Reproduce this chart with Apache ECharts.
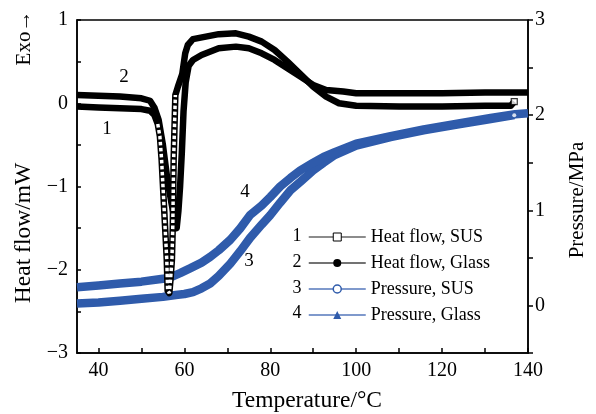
<!DOCTYPE html>
<html>
<head>
<meta charset="utf-8">
<script src="https://cdn.jsdelivr.net/npm/echarts@6/dist/echarts.min.js"></script>
<style>
html,body{margin:0;padding:0;background:#fff;}
#c{width:596px;height:414px;}
</style>
</head>
<body>
<div id="c"></div>
<script>
// ---- data ----
var tSusHeat = [35,40,45,50,52,53,53.8,54.3,54.7,55.1,55.5,55.9,56.1,56.5,56.8,57.1,57.3,57.4,57.5,57.7,57.9,58.5,59.5,60.2,60.8,62,65,68,72,75,78,81,84,87,90,93,96,100,110,120,130,136,136.8];
var vSusHeat = [-0.04,-0.05,-0.06,-0.07,-0.09,-0.14,-0.25,-0.4,-0.68,-1.08,-1.48,-1.88,-2.25,-2.28,-2.1,-1.88,-1.48,-1.08,-0.68,-0.28,0.1,0.2,0.35,0.6,0.7,0.77,0.8,0.83,0.84,0.8,0.74,0.64,0.5,0.35,0.2,0.08,0.0,-0.03,-0.04,-0.04,-0.03,-0.03,0.02];

var tGlassHeat = [35,45,50,52,53,54,55,56,57,57.8,58.2,58.6,59,59.4,59.8,60.3,61,62,64,68,72,75,78,81,84,87,90,93,97,100,110,120,130,140];
var vGlassHeat = [0.1,0.08,0.06,0.03,-0.05,-0.2,-0.5,-0.9,-1.2,-1.42,-1.5,-1.3,-1.0,-0.6,-0.1,0.25,0.45,0.52,0.58,0.66,0.68,0.66,0.6,0.52,0.42,0.32,0.22,0.16,0.14,0.12,0.12,0.12,0.13,0.13];

var tSusP = [35,40,45,50,55,58,60,62,64,66,68,70.7,73,75.3,78,80,82.3,84.7,87,90,92.4,95,100,108,115.7,123.5,131.3,136.8];
var vSusP = [0.02,0.03,0.05,0.07,0.09,0.11,0.12,0.14,0.18,0.23,0.31,0.44,0.57,0.71,0.85,0.95,1.08,1.21,1.30,1.42,1.50,1.58,1.68,1.77,1.84,1.90,1.96,2.0];

var tGlassP = [35,40,45,50,55,57,59,61.3,64,66,68,70.7,73,75.3,78,80,82.3,84.7,87,90,92.4,95,100,108,115.7,123.5,131.3,137,140];
var vGlassP = [0.19,0.21,0.23,0.25,0.28,0.30,0.34,0.39,0.45,0.51,0.58,0.69,0.81,0.95,1.05,1.14,1.25,1.34,1.42,1.50,1.56,1.61,1.70,1.78,1.85,1.91,1.97,2.01,2.02];

var xLabelValues = [40,60,80,100,120,140];
var xTickValues = [40,50,60,70,80,90,100,110,120,130,140];
var seriesNames = ['Heat flow, SUS','Heat flow, Glass','Pressure, SUS','Pressure, Glass'];
var curveNumbers = ['1','2','3','4'];

// ---- build ----
function zip(t, v){ return t.map(function(x,i){ return [x, v[i]]; }); }
var susHeat = zip(tSusHeat, vSusHeat);
var susDrop = susHeat.filter(function(p){ return p[0] >= 53.8 && p[0] <= 57.9; });
var susHeatEnd = [susHeat[susHeat.length - 1]];
var susPData = zip(tSusP, vSusP);
var susPEnd = [susPData[susPData.length - 1]];

var FONT = "'Liberation Serif','Times New Roman',serif";
var BLUE = '#2f5bab';
function fmtNum(v){ return v < 0 ? '\u2212' + (-v) : String(v); }

var chart = echarts.init(document.getElementById('c'), null, {renderer:'canvas'});
chart.setOption({
  backgroundColor: '#fff',
  animation: false,
  grid: {left:77, right:68, top:20, bottom:61, show:true, borderColor:'#000', borderWidth:1.5, backgroundColor:'transparent'},
  xAxis: {
    type:'value', min:35, max:140,
    axisLine:{show:true, onZero:false, lineStyle:{color:'#000', width:1.5}},
    axisTick:{show:true, inside:true, length:5, customValues: xTickValues, lineStyle:{color:'#000', width:1.5}},
    axisLabel:{customValues: xLabelValues, color:'#000', fontFamily:FONT, fontSize:20, margin:8},
    splitLine:{show:false}
  },
  yAxis: [{
    type:'value', min:-3, max:1, interval:0.5, position:'left',
    axisLine:{show:true, onZero:false, lineStyle:{color:'#000', width:1.5}},
    axisTick:{show:true, inside:true, length:4, lineStyle:{color:'#000', width:1.5}},
    axisLabel:{color:'#000', fontFamily:FONT, fontSize:20, margin:9,
      formatter:function(v){ return Number.isInteger(v) ? fmtNum(v) : ''; }},
    splitLine:{show:false}
  },{
    type:'value', min:-0.5, max:3, interval:0.5, position:'right',
    axisLine:{show:true, onZero:false, lineStyle:{color:'#000', width:1.5}},
    axisTick:{show:true, inside:false, length:5, lineStyle:{color:'#000', width:1.5}},
    axisLabel:{color:'#000', fontFamily:FONT, fontSize:20, margin:7,
      formatter:function(v){ return Number.isInteger(v) ? fmtNum(v) : ''; }},
    splitLine:{show:false}
  }],
  legend: {
    orient:'vertical', left:303, top:223, itemWidth:57, itemHeight:10, itemGap:8,
    textStyle:{color:'#000', fontFamily:FONT, fontSize:18},
    data:[
      {name:seriesNames[0], itemStyle:{color:'#fff', borderColor:'#000', borderWidth:1}, lineStyle:{color:'#666', width:1.5}},
      {name:seriesNames[1], itemStyle:{color:'#000', borderColor:'#000', borderWidth:0}, lineStyle:{color:'#444', width:1.5}},
      {name:seriesNames[2], itemStyle:{color:'#fff', borderColor:BLUE, borderWidth:1.5}, lineStyle:{color:'#5577bb', width:1.5}},
      {name:seriesNames[3], itemStyle:{color:BLUE, borderColor:BLUE, borderWidth:0}, lineStyle:{color:'#5577bb', width:1.5}}
    ]
  },
  series: [
    {name:seriesNames[2], type:'line', yAxisIndex:1, data:susPData, showSymbol:false, symbol:'circle', symbolSize:7,
      lineStyle:{color:BLUE, width:8.5}, itemStyle:{color:BLUE}, z:2},
    {name:seriesNames[3], type:'line', yAxisIndex:1, data:zip(tGlassP, vGlassP), showSymbol:false, symbol:'triangle', symbolSize:8,
      lineStyle:{color:BLUE, width:8.5}, itemStyle:{color:BLUE}, z:2},
    {type:'scatter', yAxisIndex:1, data:susPEnd, symbol:'circle', symbolSize:4, silent:true,
      itemStyle:{color:'#fff', borderColor:BLUE, borderWidth:0}, z:2.5},
    {name:seriesNames[0], type:'line', yAxisIndex:0, data:susHeat, showSymbol:false, symbol:'rect', symbolSize:7,
      lineStyle:{color:'#000', width:6.5, join:'round'}, itemStyle:{color:'#000'}, z:3},
    {name:seriesNames[1], type:'line', yAxisIndex:0, data:zip(tGlassHeat, vGlassHeat), showSymbol:false, symbol:'circle', symbolSize:7,
      lineStyle:{color:'#000', width:6.5, join:'round'}, itemStyle:{color:'#000'}, z:3},
    {type:'line', yAxisIndex:0, data:susDrop, showSymbol:false, symbol:'none', silent:true,
      lineStyle:{color:'#fff', width:3.5, type:[3.5,2.5]}, z:4},
    {type:'scatter', yAxisIndex:0, data:susHeatEnd, symbol:'rect', symbolSize:6, silent:true,
      itemStyle:{color:'#fff', borderColor:'#000', borderWidth:1.2}, z:4}
  ],
  graphic: [
    {type:'text', x:24, y:233, rotation:Math.PI/2, style:{text:'Heat flow/mW', font:"23.5px "+FONT, fill:'#000', align:'center', verticalAlign:'middle'}},
    {type:'text', x:24, y:38, rotation:Math.PI/2, style:{text:'Exo\u2192', font:"21px "+FONT, fill:'#000', align:'center', verticalAlign:'middle'}},
    {type:'text', x:577, y:200, rotation:Math.PI/2, style:{text:'Pressure/MPa', font:"21px "+FONT, fill:'#000', align:'center', verticalAlign:'middle'}},
    {type:'text', x:307, y:401, style:{text:'Temperature/\u00b0C', font:"23.5px "+FONT, fill:'#000', align:'center', verticalAlign:'middle'}},
    {type:'text', x:107, y:129, style:{text:curveNumbers[0], font:"19px "+FONT, fill:'#000', align:'center', verticalAlign:'middle'}},
    {type:'text', x:124, y:77, style:{text:curveNumbers[1], font:"19px "+FONT, fill:'#000', align:'center', verticalAlign:'middle'}},
    {type:'text', x:249, y:261, style:{text:curveNumbers[2], font:"19px "+FONT, fill:'#000', align:'center', verticalAlign:'middle'}},
    {type:'text', x:245, y:192, style:{text:curveNumbers[3], font:"19px "+FONT, fill:'#000', align:'center', verticalAlign:'middle'}},
    {type:'text', x:297, y:236, style:{text:curveNumbers[0], font:"18px "+FONT, fill:'#000', align:'center', verticalAlign:'middle'}},
    {type:'text', x:297, y:262, style:{text:curveNumbers[1], font:"18px "+FONT, fill:'#000', align:'center', verticalAlign:'middle'}},
    {type:'text', x:297, y:288, style:{text:curveNumbers[2], font:"18px "+FONT, fill:'#000', align:'center', verticalAlign:'middle'}},
    {type:'text', x:297, y:313, style:{text:curveNumbers[3], font:"18px "+FONT, fill:'#000', align:'center', verticalAlign:'middle'}}
  ]
});
</script>
</body>
</html>
